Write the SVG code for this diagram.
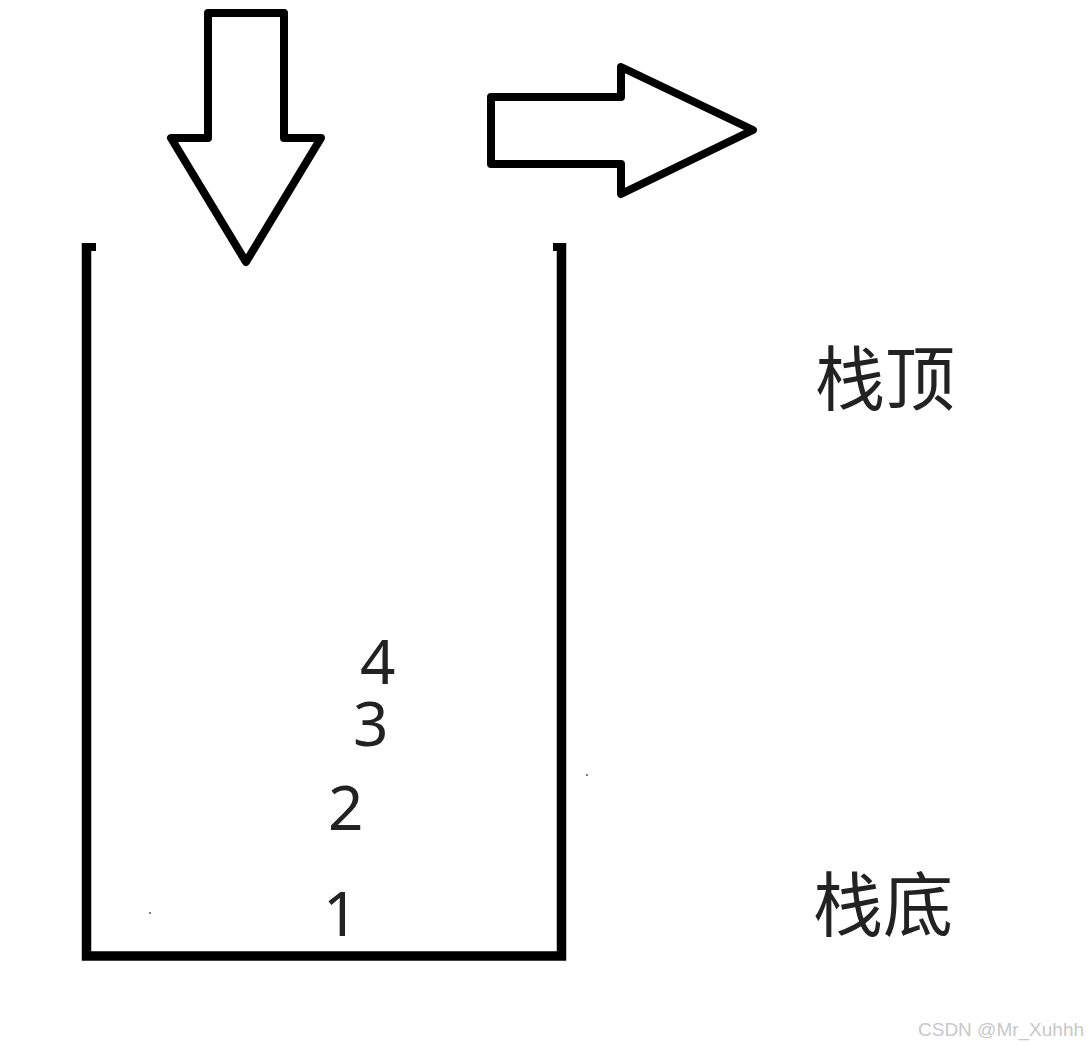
<svg xmlns="http://www.w3.org/2000/svg" width="1088" height="1045" viewBox="0 0 1088 1045">
  <style>
    .shape { fill: #ffffff; stroke: #000000; stroke-width: 8; stroke-linejoin: round; }
    .wall { fill: none; stroke: #000000; stroke-width: 9.5; stroke-linejoin: miter; stroke-linecap: butt; }
    .cjk { font-family: "Noto Sans CJK SC", "Noto Sans", sans-serif; font-size: 70px; fill: #222222; }
    .num { font-family: "Noto Sans", "Open Sans", sans-serif; font-size: 62px; fill: #222222; }
    .mark { font-family: "Liberation Sans", Arial, sans-serif; font-size: 19px; fill: #c8c8c8; }
  </style>
  <rect x="0" y="0" width="1088" height="1045" fill="#ffffff"/>

  <g id="push-arrow">
    <polygon class="shape" points="208,13 284,13 284,138 321,138 246,262 171,138 208,138"/>
  </g>

  <g id="pop-arrow">
    <polygon class="shape" points="491,97 621,97 621,67 753,130 621,194 621,164 491,164"/>
  </g>

  <g id="stack">
    <path class="wall" d="M86.5,243 V956 H561.5 V243"/>
    <rect x="82" y="243" width="14" height="8" fill="#000000"/>
    <rect x="553" y="243" width="13" height="8" fill="#000000"/>
  </g>

  <g id="items">
    <text class="num" x="360" y="684">4</text>
    <text class="num" x="353" y="746">3</text>
    <text class="num" x="328" y="830">2</text>
    <text class="num" x="323" y="936">1</text>
    <circle cx="150" cy="913" r="1" fill="#555555"/>
    <circle cx="587" cy="775" r="1" fill="#555555"/>
  </g>

  <g id="labels">
    <text class="cjk" x="815" y="405">栈顶</text>
    <text class="cjk" x="813" y="931">栈底</text>
  </g>

  <g id="connectors"></g>

  <text class="mark" x="918" y="1036">CSDN @Mr_Xuhhh</text>
</svg>
